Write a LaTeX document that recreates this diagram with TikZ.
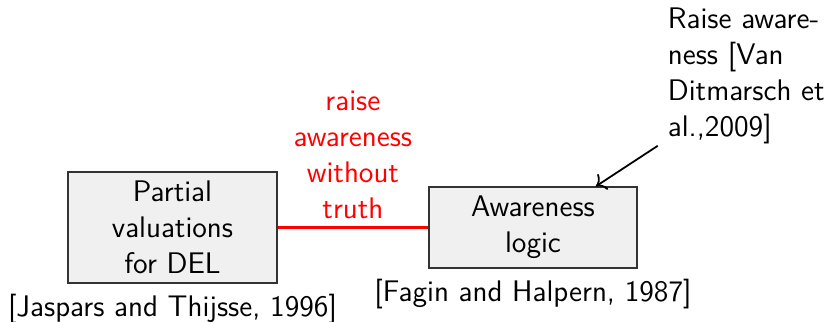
\documentclass[tikz,border=0pt]{standalone}
\usepackage{xcolor}
\usepackage{tikz}
\usetikzlibrary{calc,arrows.meta}
\definecolor{boxfill}{RGB}{240,240,240}
\definecolor{boxline}{RGB}{51,51,51}
\definecolor{linkred}{RGB}{255,0,0}

\begin{document}
\begin{tikzpicture}[x=0.0157cm, y=-0.0157cm,
    every node/.style={font=\sffamily\fontsize{13.3}{16}\selectfont},
    logicbox/.style={draw=boxline, line width=0.7pt, fill=boxfill, align=center},
    citation/.style={inner sep=2pt},
    link/.style={linkred, line width=1.3pt}]
    % Frame of the slide
    \useasboundingbox (0,0) rectangle (827,321);

    % The two logics
    \node[logicbox, minimum width=3.28cm, minimum height=1.74cm] (partial) at (172.5,227.5)
        {Partial\\valuations\\for DEL};
    \node[logicbox, minimum width=3.27cm, minimum height=1.27cm] (aware) at (533,227.5)
        {Awareness\\logic};

    % References under the boxes
    \node[citation, below=2.5pt] (jt) at (partial.south) {[Jaspars and Thijsse, 1996]};
    \node[citation, below=2.5pt] (fh) at (aware.south) {[Fagin and Halpern, 1987]};

    % Link between them
    \draw[link] (partial.east) -- node[above, text=linkred, align=center] (notruth)
        {raise\\awareness\\without\\truth} (aware.west);

    % Note on the right
    \node[anchor=north west, align=left] (vdit) at (660,0)
        {Raise aware-\\ness [Van\\Ditmarsch et\\al.,2009]};
    \coordinate (hit) at ($(aware.north)!0.6!(aware.north east)$);
    \draw[-{To[length=4pt]}, thick] ([xshift=-1pt, yshift=2.5pt]vdit.south west) -- (hit);
\end{tikzpicture}
\end{document}
